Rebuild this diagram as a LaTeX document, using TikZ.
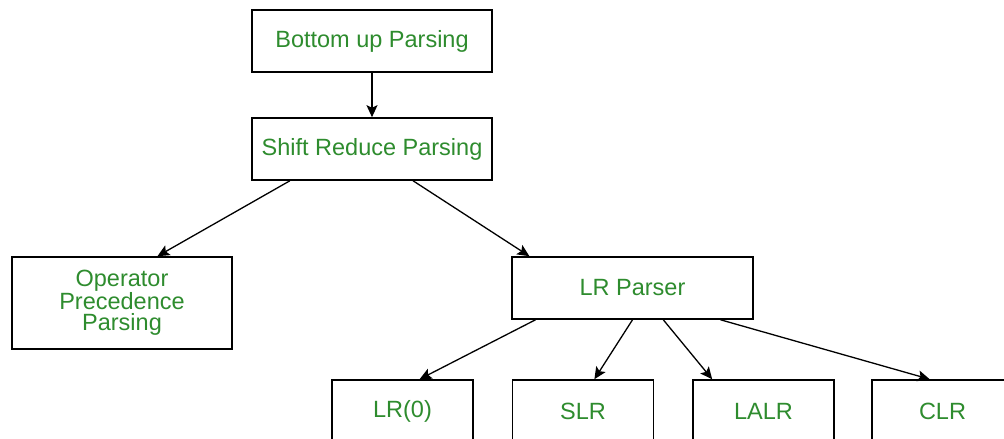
\documentclass[tikz,border=0pt]{standalone}
\usepackage{fontspec}
\setmainfont{Liberation Sans}
\usetikzlibrary{arrows.meta,calc}
\definecolor{txtgreen}{RGB}{46,140,46}
\tikzset{
  box/.style={draw=black, line width=1.6pt, fill=white, text=txtgreen, align=center,
    font=\fontsize{23.5}{21.5}\selectfont, inner sep=0pt},
  conn/.style={draw=black, line width=1.3pt, -{Stealth[length=12pt,width=11pt,inset=2.5pt]}}
}
\begin{document}
\begin{tikzpicture}[x=1pt,y=-1pt]
\useasboundingbox (0,0) rectangle (1004,439);
\node[box, minimum width=240pt, minimum height=62pt] (top) at (372,41) {Bottom up Parsing};
\node[box, minimum width=240pt, minimum height=62pt] (sr) at (372,149) {Shift Reduce Parsing};
\node[box, minimum width=220pt, minimum height=92pt] (op) at (122,303) {Operator\\Precedence\\Parsing};
\node[box, minimum width=241pt, minimum height=62pt] (lr) at (632.5,288) {LR Parser};
\node[box, minimum width=141pt, minimum height=62pt] (lr0) at (402.5,411) {LR(0)};
\node[box, minimum width=141pt, minimum height=62pt] (slr) at (583,411) {SLR};
\node[box, minimum width=141pt, minimum height=62pt] (lalr) at (763.5,411) {LALR};
\node[box, minimum width=141pt, minimum height=62pt] (clr) at (942.5,411) {CLR};
\draw[conn] (top.south) -- (sr.north);
\draw[conn] ($(sr.south west)!0.16!(sr.south east)$) -- ($(op.north west)!0.66!(op.north east)$);
\draw[conn] ($(sr.south west)!0.67!(sr.south east)$) -- ($(lr.north west)!0.075!(lr.north east)$);
\draw[conn] ($(lr.south west)!0.1!(lr.south east)$) -- ($(lr0.north west)!0.62!(lr0.north east)$);
\draw[conn] ($(lr.south west)!0.5!(lr.south east)$) -- ($(slr.north west)!0.58!(slr.north east)$);
\draw[conn] ($(lr.south west)!0.627!(lr.south east)$) -- ($(lalr.north west)!0.14!(lalr.north east)$);
\draw[conn] ($(lr.south west)!0.863!(lr.south east)$) -- ($(clr.north west)!0.41!(clr.north east)$);
\end{tikzpicture}
\end{document}
